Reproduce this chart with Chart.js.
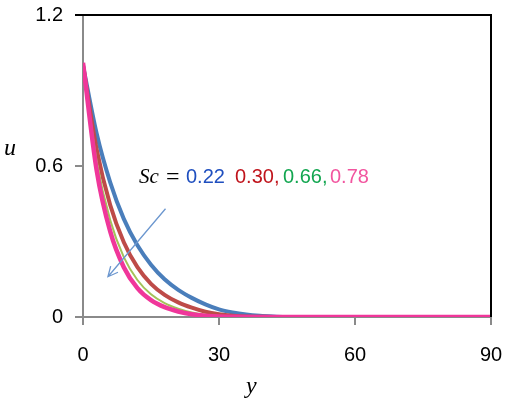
<!DOCTYPE html>
<html>
<head>
<meta charset="utf-8">
<script src="https://cdn.jsdelivr.net/npm/chart.js@4.4.1/dist/chart.umd.min.js"></script>
<style>
  html, body { margin: 0; padding: 0; background: #fff; }
  #wrap { width: 505px; height: 401px; }
</style>
</head>
<body>
<div id="wrap"><canvas id="chart"></canvas></div>
<script>
// y positions (x axis)
const yValues = [0, 3, 6, 9, 12, 15, 18, 21, 24, 27, 30, 33, 36, 39, 42, 45, 48, 51, 54, 57, 60, 63, 66, 69, 72, 75, 78, 81, 84, 87, 90];

// velocity u for each Sc
const uSc022 = [1.0, 0.73, 0.535, 0.39, 0.285, 0.208, 0.15, 0.108, 0.076, 0.05, 0.03, 0.018, 0.01, 0.005, 0.002, 0, 0, 0, 0, 0, 0, 0, 0, 0, 0, 0, 0, 0, 0, 0, 0];
const uSc030 = [1.0, 0.667, 0.445, 0.297, 0.198, 0.132, 0.088, 0.058, 0.037, 0.021, 0.011, 0.005, 0.002, 0.001, 0, 0, 0, 0, 0, 0, 0, 0, 0, 0, 0, 0, 0, 0, 0, 0, 0];
const uSc066 = [1.0, 0.62, 0.385, 0.238, 0.147, 0.09, 0.055, 0.033, 0.018, 0.009, 0.004, 0.002, 0, 0, 0, 0, 0, 0, 0, 0, 0, 0, 0, 0, 0, 0, 0, 0, 0, 0, 0];
const uSc078 = [1.01, 0.585, 0.34, 0.198, 0.115, 0.067, 0.039, 0.022, 0.011, 0.005, 0.002, 0.001, 0, 0, 0, 0, 0, 0, 0, 0, 0, 0, 0, 0, 0, 0, 0, 0, 0, 0, 0];

const xTicks = [0, 30, 60, 90];
const uTicks = [0, 0.6, 1.2];

// arrow showing increasing Sc (data coords)
const arrowFrom = [18.2, 0.43];
const arrowTo = [5.5, 0.16];

function points(vals) {
    return yValues.map((y, i) => ({ x: y, y: vals[i] }));
}

const annotations = {
    id: 'annotations',
    afterDraw(chart) {
        const ctx = chart.ctx;
        const area = chart.chartArea;
        const xs = chart.scales.x, ys = chart.scales.y;
        ctx.save();

        // top and right frame in black
        ctx.strokeStyle = '#000';
        ctx.lineWidth = 2;
        ctx.beginPath();
        ctx.moveTo(area.left - 8, area.top);
        ctx.lineTo(area.right, area.top);
        ctx.lineTo(area.right, area.bottom);
        ctx.stroke();

        // arrow
        const x1 = xs.getPixelForValue(arrowFrom[0]), y1 = ys.getPixelForValue(arrowFrom[1]);
        const x2 = xs.getPixelForValue(arrowTo[0]), y2 = ys.getPixelForValue(arrowTo[1]);
        ctx.strokeStyle = '#6c97cf';
        ctx.lineWidth = 1.3;
        ctx.beginPath();
        ctx.moveTo(x1, y1);
        ctx.lineTo(x2, y2);
        const ang = Math.atan2(y2 - y1, x2 - x1);
        const head = 11;
        ctx.moveTo(x2 - head * Math.cos(ang - 0.45), y2 - head * Math.sin(ang - 0.45));
        ctx.lineTo(x2, y2);
        ctx.lineTo(x2 - head * Math.cos(ang + 0.45), y2 - head * Math.sin(ang + 0.45));
        ctx.stroke();

        // Sc label
        ctx.textBaseline = 'alphabetic';
        ctx.textAlign = 'left';
        ctx.fillStyle = '#000';
        ctx.font = 'italic 21px "Liberation Serif"';
        ctx.fillText('Sc', 139, 183);
        ctx.font = '24px "Liberation Serif"';
        ctx.fillText('=', 166, 184);
        const parts = [['0.22', '#1f4fbf', 186], ['0.30,', '#c0141c', 235], ['0.66,', '#12a650', 283], ['0.78', '#f2559f', 330]];
        ctx.font = '20px "Liberation Sans"';
        parts.forEach(([t, c, x]) => {
            ctx.fillStyle = c;
            ctx.fillText(t, x, 183);
        });

        // axis titles
        ctx.fillStyle = '#000';
        ctx.font = 'italic 24px "Liberation Serif"';
        ctx.fillText('u', 4, 155);
        ctx.fillText('y', 246, 393);
        ctx.restore();
    }
};

const axisStyle = {
    grid: { display: true, drawOnChartArea: false, drawTicks: true, tickLength: 8, color: '#8a8a8a', lineWidth: 2 },
    border: { display: true, color: '#8a8a8a', width: 2 },
};

new Chart(document.getElementById('chart').getContext('2d'), {
    type: 'line',
    data: {
        datasets: [
            { label: 'Sc = 0.22', data: points(uSc022), borderColor: '#4a7ebb', borderWidth: 4, order: 4 },
            { label: 'Sc = 0.30', data: points(uSc030), borderColor: '#be4b48', borderWidth: 4, order: 3 },
            { label: 'Sc = 0.66', data: points(uSc066), borderColor: '#a4c25a', borderWidth: 2, order: 2 },
            { label: 'Sc = 0.78', data: points(uSc078), borderColor: '#f0369a', borderWidth: 4.5, order: 1 },
        ]
    },
    options: {
        responsive: true,
        maintainAspectRatio: false,
        animation: false,
        layout: { padding: { top: 15, right: 14, left: 0, bottom: 0 } },
        elements: { point: { radius: 0 }, line: { tension: 0.35, cubicInterpolationMode: 'monotone' } },
        plugins: { legend: { display: false }, tooltip: { enabled: false } },
        scales: {
            x: {
                type: 'linear', min: 0, max: 90,
                afterBuildTicks: s => { s.ticks = xTicks.map(v => ({ value: v })); },
                afterFit: s => { s.height = 84; s.paddingLeft = 0; s.paddingRight = 0; },
                ticks: { padding: 18, color: '#000', font: { family: 'Liberation Sans', size: 20 } },
                ...axisStyle
            },
            y: {
                type: 'linear', min: 0, max: 1.2,
                afterBuildTicks: s => { s.ticks = uTicks.map(v => ({ value: v })); },
                afterFit: s => { s.width = 83; s.paddingTop = 0; s.paddingBottom = 0; },
                ticks: { padding: 12, color: '#000', font: { family: 'Liberation Sans', size: 20 } },
                ...axisStyle
            }
        }
    },
    plugins: [annotations]
});
</script>
</body>
</html>
